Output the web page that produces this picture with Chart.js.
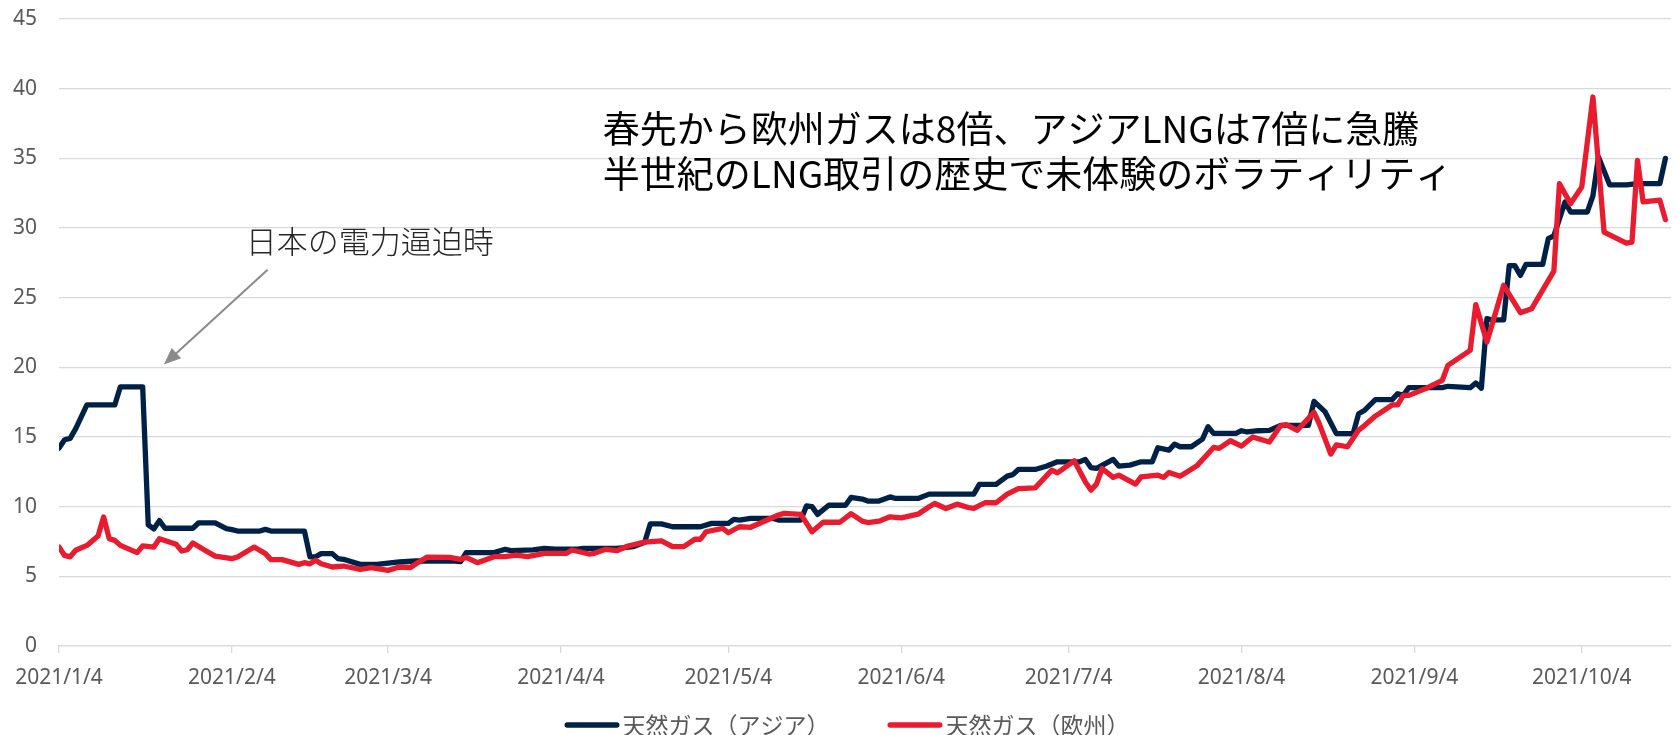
<!DOCTYPE html>
<html>
<head>
<meta charset="utf-8">
<script src="https://cdn.jsdelivr.net/npm/chart.js@4.4.1/dist/chart.umd.min.js"></script>
<style>
  html, body { margin: 0; padding: 0; background: #fff; }
  canvas { display: block; }
</style>
</head>
<body>
<canvas id="gasChart" width="1677" height="735"></canvas>
<script>
// x ticks (monthly, on the 4th)
const tickLabels = ['2021/1/4', '2021/2/4', '2021/3/4', '2021/4/4', '2021/5/4',
    '2021/6/4', '2021/7/4', '2021/8/4', '2021/9/4', '2021/10/4'];

const seriesNames = ['天然ガス（アジア）', '天然ガス（欧州）'];
const seriesColors = ['#002147', '#e81c2e'];

// Asia LNG, $/MMBtu
const asiaDates = ['1/4','1/5','1/6','1/7','1/9','1/14','1/15','1/19','1/20','1/21','1/22','1/23','1/28','1/29',
    '2/1','2/3','2/4','2/5','2/9','2/10','2/11','2/17','2/18','2/19','2/20','2/22','2/23','2/24','2/27',
    '3/2','3/6','3/9','3/12','3/16','3/17','3/18','3/23','3/25','3/26','3/30',
    '4/1','4/3','4/7','4/8','4/14','4/17','4/19','4/20','4/22','4/24','4/29',
    '5/1','5/4','5/5','5/6','5/8','5/12','5/13','5/17','5/18','5/19','5/20','5/22','5/25','5/26','5/28','5/29','5/31',
    '6/2','6/3','6/7','6/9','6/17','6/18','6/21','6/23','6/24','6/25','6/28','6/30',
    '7/2','7/6','7/7','7/8','7/9','7/12','7/13','7/15','7/17','7/19','7/20','7/22','7/23','7/24','7/26','7/28','7/29','7/30',
    '8/3','8/4','8/5','8/7','8/9','8/11','8/16','8/17','8/19','8/21','8/24','8/25','8/26','8/28','8/31',
    '9/1','9/2','9/3','9/9','9/10','9/14','9/15','9/16','9/17','9/18','9/20','9/21','9/22','9/23','9/24','9/27','9/28','9/29',
    '10/1','10/2','10/5','10/6','10/7','10/8','10/9','10/12','10/14','10/18','10/19'];
const asiaValues = [14.2,14.8,14.9,15.6,17.3,17.3,18.6,18.6,8.7,8.4,9.0,8.45,8.45,8.83,
    8.83,8.42,8.35,8.25,8.25,8.37,8.25,8.25,6.4,6.4,6.63,6.63,6.27,6.22,5.86,
    5.86,6.03,6.1,6.1,6.1,6.05,6.7,6.7,6.94,6.85,6.9,
    7.0,6.95,6.95,7.0,7.0,7.13,7.45,8.76,8.76,8.56,8.56,
    8.8,8.8,9.09,9.04,9.16,9.16,9.04,9.04,10.05,10.0,9.45,10.1,10.1,10.66,10.55,10.4,10.4,
    10.7,10.59,10.59,10.9,10.9,11.6,11.6,12.19,12.3,12.67,12.67,12.9,
    13.22,13.22,13.39,12.81,12.75,13.39,12.91,12.98,13.22,13.22,14.23,14.06,14.49,14.3,14.3,14.85,15.74,15.26,
    15.26,15.45,15.36,15.45,15.48,15.84,15.84,17.56,16.8,15.24,15.24,16.67,16.9,17.68,17.68,
    18.11,17.99,18.54,18.54,18.64,18.54,18.88,18.5,23.5,23.4,23.4,27.3,27.3,26.6,27.39,27.39,29.23,29.43,
    31.87,31.15,31.15,32.3,35.1,34.1,33.1,33.1,33.18,33.18,35.0];

// Europe gas, $/MMBtu
const euDates = ['1/4','1/5','1/6','1/7','1/9','1/11','1/12','1/13','1/14','1/15','1/18','1/19','1/21','1/22','1/25','1/26','1/27','1/28','1/30',
    '2/1','2/4','2/5','2/8','2/10','2/11','2/13','2/16','2/17','2/18','2/19','2/20','2/22','2/24','2/27',
    '3/1','3/4','3/6','3/8','3/9','3/11','3/15','3/17','3/18','3/20','3/23','3/25','3/27','3/29',
    '4/1','4/5','4/6','4/9','4/10','4/12','4/14','4/16','4/19','4/22','4/24','4/26','4/28','4/29','4/30',
    '5/3','5/4','5/6','5/8','5/13','5/14','5/17','5/19','5/21','5/24','5/26','5/28','5/29','5/31',
    '6/2','6/4','6/7','6/9','6/10','6/12','6/14','6/16','6/17','6/19','6/21','6/23','6/25','6/28',
    '7/1','7/2','7/5','7/7','7/8','7/9','7/10','7/12','7/13','7/16','7/17','7/20','7/21','7/22','7/24','7/27','7/30','7/31',
    '8/2','8/4','8/6','8/9','8/11','8/12','8/14','8/17','8/18','8/20','8/21','8/23','8/25','8/26','8/28','8/31',
    '9/1','9/2','9/3','9/6','9/9','9/10','9/14','9/15','9/17','9/20','9/23','9/25','9/29','9/30',
    '10/2','10/4','10/6','10/8','10/12','10/13','10/14','10/15','10/18','10/19'];
const euValues = [7.1,6.5,6.4,6.87,7.22,7.9,9.26,7.7,7.58,7.22,6.7,7.18,7.1,7.7,7.3,6.82,6.91,7.39,6.91,
    6.45,6.27,6.39,7.1,6.63,6.2,6.2,5.86,5.98,5.9,6.15,5.9,5.67,5.74,5.5,
    5.62,5.43,5.67,5.62,5.9,6.38,6.36,6.22,6.36,5.98,6.41,6.41,6.53,6.41,
    6.65,6.65,6.89,6.6,6.65,6.94,6.84,7.18,7.46,7.54,7.13,7.13,7.66,7.66,8.2,
    8.44,8.13,8.56,8.52,9.4,9.52,9.45,8.2,8.88,8.88,9.5,8.96,8.86,8.96,
    9.27,9.2,9.46,9.99,10.23,9.87,10.18,9.94,9.87,10.28,10.28,10.9,11.3,11.35,
    12.62,12.43,13.29,11.78,11.19,11.62,12.74,12.1,12.26,11.62,12.14,12.26,12.1,12.45,12.19,12.93,14.25,14.18,
    14.73,14.35,15.0,14.64,15.8,15.89,15.48,16.77,15.89,13.77,14.44,14.3,15.5,15.8,16.5,17.3,
    17.3,17.99,17.99,18.47,19.07,20.14,21.22,24.5,21.82,25.89,23.92,24.2,26.91,33.18,
    31.75,32.94,39.4,29.71,28.92,28.99,34.86,31.87,32.0,30.6];

// days since 2021/1/4
function dayOf(md) {
    const [m, d] = md.split('/').map(Number);
    return (Date.UTC(2021, m - 1, d) - Date.UTC(2021, 0, 4)) / 86400000;
}
const tickDays = tickLabels.map(l => dayOf(l.slice(5)));
const toPoints = (dates, values) => dates.map((d, i) => ({ x: dayOf(d), y: values[i] }));

const tickFont = { family: '"Noto Sans", sans-serif', size: 21 };
const jpFont = '"Noto Sans CJK JP", sans-serif';

// legend + annotations drawn on top
const notesPlugin = {
    id: 'notes',
    afterDraw(chart) {
        const ctx = chart.ctx;
        const xs = chart.scales.x, ys = chart.scales.y;
        ctx.save();

        // big comment
        ctx.fillStyle = '#000';
        ctx.font = '37px ' + jpFont;
        ctx.textBaseline = 'middle';
        ctx.textAlign = 'left';
        const tx = xs.getPixelForValue(97.5);
        ctx.fillText('春先から欧州ガスは8倍、アジアLNGは7倍に急騰', tx, ys.getPixelForValue(37.1));
        ctx.fillText('半世紀のLNG取引の歴史で未体験のボラティリティ', tx, ys.getPixelForValue(33.9));

        // japan note + arrow
        ctx.fillStyle = '#262626';
        ctx.font = '300 31px ' + jpFont;
        ctx.fillText('日本の電力逼迫時', xs.getPixelForValue(33.5), ys.getPixelForValue(29.05));

        const x1 = xs.getPixelForValue(37.4), y1 = ys.getPixelForValue(27.0);
        const x2 = xs.getPixelForValue(18.8), y2 = ys.getPixelForValue(20.2);
        const ang = Math.atan2(y2 - y1, x2 - x1);
        const head = 17, half = 7;
        ctx.strokeStyle = '#8a8a8a';
        ctx.fillStyle = '#8a8a8a';
        ctx.lineWidth = 2;
        ctx.beginPath();
        ctx.moveTo(x1, y1);
        ctx.lineTo(x2 - Math.cos(ang) * (head - 2), y2 - Math.sin(ang) * (head - 2));
        ctx.stroke();
        ctx.beginPath();
        ctx.moveTo(x2, y2);
        ctx.lineTo(x2 - Math.cos(ang) * head + Math.sin(ang) * half, y2 - Math.sin(ang) * head - Math.cos(ang) * half);
        ctx.lineTo(x2 - Math.cos(ang) * head - Math.sin(ang) * half, y2 - Math.sin(ang) * head + Math.cos(ang) * half);
        ctx.closePath();
        ctx.fill();

        // legend
        const lineLen = 55, gapText = 3, gapItem = 58, ly = 725;
        ctx.font = '23px ' + jpFont;
        const widths = seriesNames.map(n => ctx.measureText(n).width);
        const total = widths.reduce((a, w) => a + lineLen + gapText + w, 0) + gapItem * (seriesNames.length - 1);
        let lx = 847 - total / 2;
        seriesNames.forEach((name, i) => {
            ctx.strokeStyle = seriesColors[i];
            ctx.lineWidth = 5.5;
            ctx.lineCap = 'round';
            ctx.beginPath();
            ctx.moveTo(lx + 2.75, ly);
            ctx.lineTo(lx + lineLen - 2.75, ly);
            ctx.stroke();
            ctx.fillStyle = '#595959';
            ctx.fillText(name, lx + lineLen + gapText, ly);
            lx += lineLen + gapText + widths[i] + gapItem;
        });
        ctx.restore();
    }
};

new Chart(document.getElementById('gasChart'), {
    type: 'line',
    data: {
        datasets: [{
            label: seriesNames[0],
            data: toPoints(asiaDates, asiaValues),
            borderColor: seriesColors[0],
            backgroundColor: seriesColors[0],
            order: 2
        }, {
            label: seriesNames[1],
            data: toPoints(euDates, euValues),
            borderColor: seriesColors[1],
            backgroundColor: seriesColors[1],
            order: 1
        }]
    },
    options: {
        responsive: false,
        animation: false,
        events: [],
        layout: { autoPadding: false, padding: { top: 19, right: 6, bottom: 39, left: 0 } },
        elements: {
            line: { borderWidth: 5.3, tension: 0, borderJoinStyle: 'round', borderCapStyle: 'round', fill: false },
            point: { radius: 0 }
        },
        plugins: {
            legend: { display: false },
            tooltip: { enabled: false }
        },
        scales: {
            x: {
                type: 'linear',
                min: 0,
                max: 289,
                afterFit: s => { s.height = 50; s.paddingLeft = 0; s.paddingRight = 0; },
                afterBuildTicks: s => { s.ticks = tickDays.map(v => ({ value: v })); },
                ticks: {
                    autoSkip: false,
                    maxRotation: 0,
                    color: '#595959',
                    font: tickFont,
                    padding: 12,
                    callback: (v, i) => tickLabels[i]
                },
                grid: { drawOnChartArea: false, drawTicks: true, tickLength: 7, color: '#d9d9d9', lineWidth: 1.3 },
                border: { display: true, color: '#d9d9d9', width: 1.3 }
            },
            y: {
                min: 0,
                max: 45,
                afterFit: s => { s.width = 59; s.paddingTop = 0; s.paddingBottom = 0; },
                ticks: { stepSize: 5, color: '#595959', font: tickFont, padding: 22 },
                grid: { color: '#d9d9d9', lineWidth: 1.3, drawTicks: false },
                border: { display: false }
            }
        }
    },
    plugins: [notesPlugin]
});
</script>
</body>
</html>
